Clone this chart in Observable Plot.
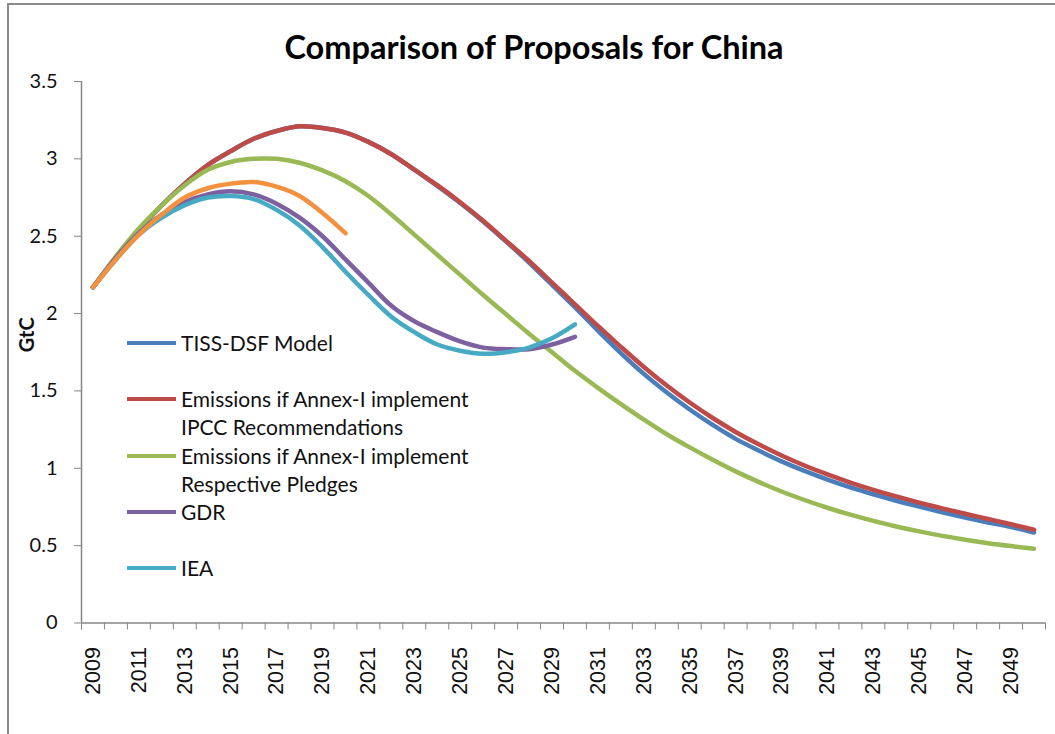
<!DOCTYPE html>
<html>
<head>
<meta charset="utf-8">
<script src="https://cdn.jsdelivr.net/npm/d3@7"></script>
<script src="https://cdn.jsdelivr.net/npm/@observablehq/plot@0.6"></script>
<style>
  body { margin: 0; background: #fff; }
  #page { position: relative; width: 1055px; height: 734px; overflow: hidden; background: #fff; }
  #frame { position: absolute; left: 7px; top: 3px; right: -10px; bottom: -10px;
           border-left: 2px solid #8a8a8a; border-top: 2px solid #8a8a8a; }
  #chart { position: absolute; left: 0; top: 0; }
  #title { position: absolute; left: 0; width: 1068px; top: 27px; text-align: center;
           font: bold 32.5px Lato, sans-serif; color: #000; }
  #legend { position: absolute; left: 127px; top: 329px; font: 21px Lato, sans-serif; color: #111; }
  .item { position: relative; height: 56.3px; }
  .item svg { position: absolute; left: 0; top: 12px; }
  .item .lbl { position: absolute; left: 54px; top: 0; line-height: 28px; white-space: nowrap; }
</style>
</head>
<body>
<div id="page">
  <div id="frame"></div>
  <div id="chart"></div>
  <div id="title">Comparison of Proposals for China</div>
  <div id="legend"></div>
</div>
<script>
// Years on the category axis
const years = d3.range(2009, 2051);

// Emissions in GtC, one value per year from 2009
const tissDsf = [2.17, 2.36, 2.54, 2.70, 2.84, 2.96, 3.05, 3.13, 3.18, 3.21,
                 3.20, 3.17, 3.11, 3.03, 2.93, 2.825, 2.715, 2.595, 2.465, 2.33,
                 2.185, 2.04, 1.89, 1.745, 1.61, 1.49, 1.38, 1.28, 1.19, 1.115,
                 1.045, 0.983, 0.927, 0.877, 0.832, 0.79, 0.752, 0.716, 0.682, 0.65,
                 0.62, 0.585];
const annexIpcc = [2.17, 2.36, 2.54, 2.70, 2.84, 2.96, 3.05, 3.13, 3.18, 3.21,
                   3.20, 3.17, 3.11, 3.03, 2.93, 2.83, 2.72, 2.60, 2.47, 2.34,
                   2.20, 2.06, 1.92, 1.785, 1.655, 1.535, 1.425, 1.325, 1.235, 1.155,
                   1.083, 1.018, 0.96, 0.908, 0.861, 0.818, 0.778, 0.741, 0.706, 0.672,
                   0.638, 0.603];
const annexPledges = [2.17, 2.37, 2.55, 2.70, 2.83, 2.93, 2.98, 3.00, 3.00, 2.975,
                      2.925, 2.855, 2.76, 2.64, 2.51, 2.38, 2.25, 2.12, 1.995, 1.87,
                      1.75, 1.63, 1.52, 1.415, 1.315, 1.22, 1.135, 1.055, 0.98, 0.912,
                      0.85, 0.795, 0.745, 0.70, 0.66, 0.624, 0.592, 0.563, 0.538, 0.516,
                      0.497, 0.48];
const gdr = [2.17, 2.36, 2.52, 2.64, 2.72, 2.77, 2.79, 2.77, 2.71, 2.62,
             2.50, 2.35, 2.20, 2.05, 1.95, 1.88, 1.82, 1.78, 1.77, 1.77,
             1.80, 1.85];
const iea = [2.17, 2.35, 2.51, 2.62, 2.70, 2.75, 2.76, 2.74, 2.67, 2.57,
             2.43, 2.27, 2.12, 1.98, 1.88, 1.80, 1.76, 1.74, 1.75, 1.78,
             1.84, 1.93];
const shortRun = [2.17, 2.35, 2.51, 2.64, 2.75, 2.81, 2.84, 2.85, 2.82, 2.76,
                  2.65, 2.52];

// Legend text (null = not listed)
const seriesNames = [
  ["TISS-DSF Model"],
  ["Emissions if Annex-I implement", "IPCC Recommendations"],
  ["Emissions if Annex-I implement", "Respective  Pledges"],
  ["GDR"],
  ["IEA"],
  null
];
const seriesValues = [tissDsf, annexIpcc, annexPledges, gdr, iea, shortRun];
const seriesColors = ["#4a7ebb", "#be4b48", "#98b954", "#7d60a0", "#46aac5", "#f3913f"];

const yTicks = [0, 0.5, 1, 1.5, 2, 2.5, 3, 3.5];
const yearLabels = years.filter(y => y % 2 === 1);
const yearBounds = [...years.map(y => y - 0.5), years[years.length - 1] + 0.5];

const axisGrey = "#868686";

const lineMarks = seriesValues.map((vals, i) =>
  Plot.line(vals.map((v, j) => ({year: years[j], value: v})), {
    x: "year", y: "value", stroke: seriesColors[i], strokeWidth: 4.5,
    curve: "catmull-rom", strokeLinecap: "round"
  })
);

const chart = Plot.plot({
  width: 1055,
  height: 734,
  marginLeft: 81,
  marginRight: 10,
  marginTop: 81,
  marginBottom: 111.5,
  x: {type: "linear", domain: [yearBounds[0], yearBounds[yearBounds.length - 1]]},
  y: {domain: [0, 3.5]},
  style: {background: "transparent", overflow: "visible"},
  marks: [
    Plot.axisY(yTicks, {tickSize: 7, tickPadding: 17, stroke: axisGrey, fill: "#111",
      tickFormat: d => String(d), fontSize: 20, fontFamily: "Lato", label: null}),
    Plot.axisX(yearBounds, {tickSize: 7, stroke: axisGrey, tickFormat: () => "", label: null}),
    Plot.axisX(yearLabels, {tickSize: 0, tickPadding: 24, tickRotate: -90, fill: "#111",
      tickFormat: d => String(d), fontSize: 21.5, fontFamily: "Liberation Sans", label: null}),
    Plot.ruleY([0], {stroke: axisGrey, strokeWidth: 1.5}),
    Plot.ruleX([yearBounds[0]], {stroke: axisGrey, strokeWidth: 1.5}),
    Plot.text(["GtC"], {frameAnchor: "left", dx: -54, rotate: -90, fontWeight: "bold",
      fontSize: 20, fontFamily: "Lato", fill: "#111"}),
    ...lineMarks
  ]
});
document.getElementById("chart").appendChild(chart);

// Legend inside the plot area
const legend = document.getElementById("legend");
seriesNames.forEach((lines, i) => {
  if (!lines) return;
  const item = document.createElement("div");
  item.className = "item";
  item.innerHTML =
    `<svg width="50" height="4"><line x1="0" y1="2" x2="49" y2="2" stroke="${seriesColors[i]}" stroke-width="4"/></svg>` +
    `<div class="lbl">${lines.join("<br>")}</div>`;
  legend.appendChild(item);
});
</script>
</body>
</html>
